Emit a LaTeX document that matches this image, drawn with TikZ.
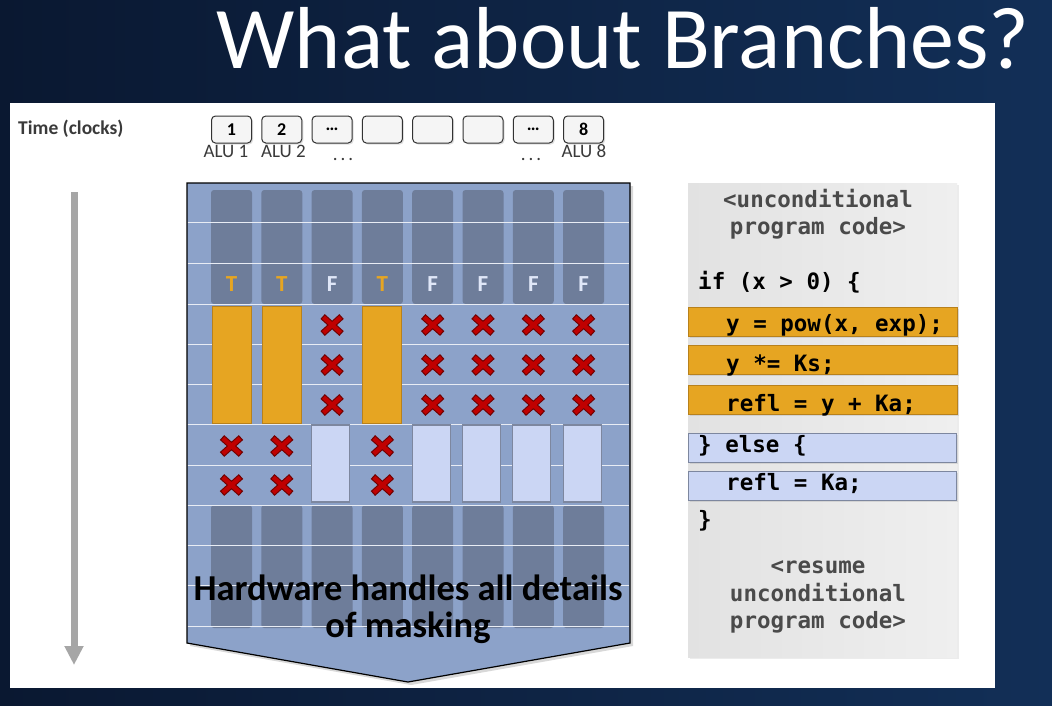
\documentclass[tikz,border=0pt]{standalone}
\usepackage{fontspec}
\setmainfont{Carlito}
\newfontfamily\codefont{DejaVu Sans Mono}
\usetikzlibrary{shadows,arrows.meta}

\definecolor{navy}{HTML}{10294D}
\definecolor{navydark}{HTML}{0A1831}
\definecolor{navylight}{HTML}{122F57}
\definecolor{lanebg}{HTML}{8CA2C9}
\definecolor{lanedark}{HTML}{6E7D9A}
\definecolor{maskorange}{HTML}{E6A522}
\definecolor{orangeedge}{HTML}{B8811C}
\definecolor{paleblue}{HTML}{CBD6F4}
\definecolor{paleedge}{HTML}{7D879F}
\definecolor{xred}{HTML}{C00000}
\definecolor{xdark}{HTML}{700000}
\definecolor{textgrey}{HTML}{3A3A3A}
\definecolor{codegrey}{HTML}{4A4A4A}
\definecolor{arrowgrey}{HTML}{A6A6A6}
\definecolor{panelA}{HTML}{E2E2E2}
\definecolor{panelB}{HTML}{EFEFEF}

\begin{document}
\begin{tikzpicture}[x=1pt,y=-1pt,
  alubox/.style={draw=black!80, fill=black!4, rounded corners=4pt, line width=1pt,
    minimum width=40pt, minimum height=27pt, inner sep=0pt,
    font=\bfseries\fontsize{18}{18}\selectfont,
    drop shadow={opacity=0.25, shadow xshift=1.5pt, shadow yshift=-1.5pt}},
  alulabel/.style={anchor=base, inner sep=0pt, text=textgrey, font=\fontsize{19}{19}\selectfont},
  lanecell/.style={fill=lanedark, rounded corners=3pt},
  rowline/.style={draw=white!80!lanebg, line width=1pt},
  activecell/.style={fill=maskorange, draw=orangeedge, line width=1pt},
  idlecell/.style={fill=paleblue, draw=paleedge, line width=1.2pt},
  flag/.style={anchor=base, inner sep=0pt, font=\bfseries\fontsize{23}{23}\selectfont},
  maskx/.pic={
    \draw[xdark, line width=6.5pt] (-9.5,-8.5) -- (9.5,8.5) (-9.5,8.5) -- (9.5,-8.5);
    \draw[xred, line width=4.3pt] (-8.6,-7.7) -- (8.6,7.7) (-8.6,7.7) -- (8.6,-7.7);
  },
  codeline/.style={anchor=base west, inner sep=0pt, font=\codefont\bfseries\fontsize{22.5}{22.5}\selectfont},
  codenote/.style={anchor=base, inner sep=0pt, text=codegrey, font=\codefont\bfseries\fontsize{22.5}{22.5}\selectfont},
  hot/.style={fill=maskorange, draw=orangeedge, line width=1pt,
    drop shadow={opacity=0.2, shadow xshift=1.5pt, shadow yshift=-1.5pt}},
  cold/.style={fill=paleblue, draw=paleedge, line width=1pt,
    drop shadow={opacity=0.2, shadow xshift=1.5pt, shadow yshift=-1.5pt}},
]
\useasboundingbox (0,0) rectangle (1052,705);

% slide background
\shade[left color=navydark, middle color=navy, right color=navylight] (0,0) rectangle (1052,705);

% title
\node[anchor=base east, inner sep=0pt, text=white, font=\fontsize{88}{88}\selectfont]
  (title) at (1030,68) {What about Branches?};

% white canvas
\fill[white] (10,103) rectangle (995,688);

% time axis
\node[anchor=base west, inner sep=0pt, text=textgrey, font=\bfseries\fontsize{19.5}{20}\selectfont]
  (timelbl) at (18,134) {Time (clocks)};
\coordinate (tstart) at (74,192);
\coordinate (tend) at (74,665);
\draw[arrowgrey, line width=7pt, -{Triangle[width=18pt,length=19pt]}] (tstart) -- (tend);

% ALU headers
\foreach \i/\lbl in {1/1,2/2,3/\ldots,4/,5/,6/,7/\ldots,8/8}{
  \node[alubox] (alu\i) at ({231.5+50.3*(\i-1)},129.5) {\lbl};
}
\node[alulabel] (alun1) at (226,157) {ALU 1};
\node[alulabel] (alun2) at (283.5,157) {ALU 2};
\node[alulabel] (alud3) at (343,160) {.\hspace{3pt}.\hspace{3pt}.};
\node[alulabel] (alud7) at (531,160) {.\hspace{3pt}.\hspace{3pt}.};
\node[alulabel] (alun8) at (584,157) {ALU 8};

% lane block (arrow-shaped)
\fill[lanebg, draw=black, line width=1.2pt,
  drop shadow={opacity=0.3, shadow xshift=3pt, shadow yshift=-3pt}]
  (187,183) -- (630,183) -- (630,643) -- (408,682) -- (187,643) -- cycle;

% idle lane slots before and after the branch
\foreach \i in {1,2,3,4,5,6,7,8}{
  \pgfmathsetmacro\cx{231.5+50.3*(\i-1)}
  \fill[lanecell] (\cx-20.5,190) rectangle (\cx+20.5,304);
  \fill[lanecell] (\cx-20.5,505) rectangle (\cx+20.5,628);
}

% clock rows
\foreach \yy in {222.5,263,304,344.5,384.5,424.5,465,505,545,585.5,626}{
  \draw[rowline] (187.6,\yy) -- (629.4,\yy);
}

% branch outcome per lane
\foreach \i in {1,2,4}{
  \node[flag, text=maskorange] (flag\i) at ({231.5+50.3*(\i-1)},291) {T};
}
\foreach \i in {3,5,6,7,8}{
  \node[flag, text=paleblue!60!white] (flag\i) at ({231.5+50.3*(\i-1)},291) {F};
}

% "if" body executes on the true lanes
\foreach \i in {1,2,4}{
  \pgfmathsetmacro\cx{231.5+50.3*(\i-1)}
  \draw[activecell] (\cx-19.5,306) rectangle (\cx+19.5,423);
}
% "else" body executes on the false lanes
\foreach \i in {3,5,6,7,8}{
  \pgfmathsetmacro\cx{231.5+50.3*(\i-1)-1.5}
  \draw[idlecell] (\cx-19,425) rectangle (\cx+19,502);
}

% masked-off slots
\foreach \i in {3,5,6,7,8}{
  \pgfmathsetmacro\cx{231.5+50.3*(\i-1)}
  \foreach \yy in {325,365,405}{ \pic at (\cx,\yy) {maskx}; }
}
\foreach \i in {1,2,4}{
  \pgfmathsetmacro\cx{231.5+50.3*(\i-1)}
  \foreach \yy in {446,485}{ \pic at (\cx,\yy) {maskx}; }
}

\node[anchor=base, inner sep=0pt, font=\bfseries\fontsize{36.5}{36.5}\selectfont]
  (hw1) at (408,600) {Hardware handles all details};
\node[anchor=base, inner sep=0pt, font=\bfseries\fontsize{36.5}{36.5}\selectfont]
  (hw2) at (408,637) {of masking};

% source code panel
\shade[left color=panelA, right color=panelB,
  drop shadow={opacity=0.15, shadow xshift=2pt, shadow yshift=-2pt}]
  (688,183) rectangle (957,657);

\draw[hot] (688,307) rectangle (957,336);
\draw[hot] (688,345) rectangle (957,374);
\draw[hot] (688,385) rectangle (957,414);
\draw[cold] (688,433) rectangle (956,462);
\draw[cold] (688,471) rectangle (956,500);

\node[codenote] (pre1) at (818,207) {<unconditional};
\node[codenote] (pre2) at (818,234) {program code>};
\node[codeline] (c1) at (698,289) {if (x > 0) \{};
\node[codeline] (c2) at (726,331) {y = pow(x, exp);};
\node[codeline] (c3) at (726,371) {y *= Ks;};
\node[codeline] (c4) at (726,411) {refl = y + Ka;};
\node[codeline] (c5) at (698,452) {\} else \{};
\node[codeline] (c6) at (726,490) {refl = Ka;};
\node[codeline] (c7) at (698,527) {\}};
\node[codenote] (post1) at (818,573) {<resume};
\node[codenote] (post2) at (818,601) {unconditional};
\node[codenote] (post3) at (818,628) {program code>};
\end{tikzpicture}
\end{document}
